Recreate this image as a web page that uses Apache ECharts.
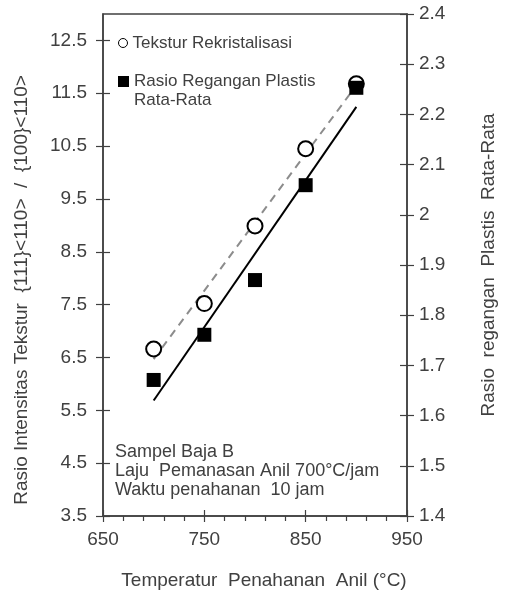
<!DOCTYPE html>
<html>
<head>
<meta charset="utf-8">
<script src="https://cdn.jsdelivr.net/npm/echarts@6/dist/echarts.min.js"></script>
<style>
html,body{margin:0;padding:0;background:#fff;}
#chart{width:506px;height:596px;}
</style>
</head>
<body>
<div id="chart"></div>
<script>
// ---- data ----
const temperatures = [700, 750, 800, 850, 900];
const teksturRekristalisasi = [6.66, 7.52, 8.99, 10.45, 11.68];
const rasioRegangan = [1.671, 1.761, 1.870, 2.059, 2.253];
const trendX = [700, 900];
const trendTekstur = [6.47, 11.65];
const trendRasio = [1.63, 2.215];
const leftTicks = [3.5, 4.5, 5.5, 6.5, 7.5, 8.5, 9.5, 10.5, 11.5, 12.5];
const rightTicks = [1.4, 1.5, 1.6, 1.7, 1.8, 1.9, 2.0, 2.1, 2.2, 2.3, 2.4];
const xTicks = [650, 750, 850, 950];
const seriesNames = ['Tekstur Rekristalisasi', 'Rasio Regangan Plastis\nRata-Rata'];
const annotationLines = ['Sampel Baja B', 'Laju  Pemanasan Anil 700\u00B0C/jam', 'Waktu penahanan  10 jam'];
const xTitle = 'Temperatur  Penahanan  Anil (\u00B0C)';
const yLeftTitle = 'Rasio Intensitas Tekstur  {111}<110>  /  {100}<110>';
const yRightTitle = 'Rasio  regangan  Plastis  Rata-Rata';

const FONT = '"Liberation Sans", Arial, sans-serif';
const TXT = '#404040';
const AX = '#404040';

const chart = echarts.init(document.getElementById('chart'), null, {renderer: 'canvas'});

const pair = (xs, ys) => xs.map((x, i) => [x, ys[i]]);

const baseY = {
  type: 'value',
  axisLine: {show: true, lineStyle: {color: AX, width: 1.5}},
  splitLine: {show: false},
  axisTick: {show: true, length: 7, lineStyle: {color: AX, width: 1.2}},
};

const option = {
  animation: false,
  backgroundColor: '#fff',
  grid: {left: 103, right: 97, top: 14, bottom: 80, show: true, borderColor: AX, borderWidth: 1.5, backgroundColor: 'transparent'},
  xAxis: [
    {
      type: 'value', min: 650, max: 950, interval: 100, position: 'bottom',
      axisLine: {show: true, lineStyle: {color: AX, width: 1.5}},
      axisTick: {show: true, length: 6, lineStyle: {color: AX, width: 1.2}, customValues: xTicks},
      minorTick: {show: true, splitNumber: 5, length: 5, lineStyle: {color: AX, width: 1.2}},
      splitLine: {show: false}, minorSplitLine: {show: false},
      axisLabel: {fontFamily: FONT, fontSize: 19, color: TXT, margin: 14, customValues: xTicks},
      name: xTitle, nameLocation: 'middle', nameGap: 55,
      nameTextStyle: {fontFamily: FONT, fontSize: 19, color: TXT, padding: [0, 0, 0, 18]}
    },
    {
      type: 'value', min: 650, max: 950, interval: 100, position: 'bottom',
      axisLine: {show: false},
      axisTick: {show: true, inside: true, length: 6, lineStyle: {color: AX, width: 1.2}, customValues: xTicks},
      axisLabel: {show: false}, splitLine: {show: false}
    }
  ],
  yAxis: [
    Object.assign({}, baseY, {
      min: 3.5, max: 13, interval: 1, position: 'left',
      axisTick: Object.assign({}, baseY.axisTick, {customValues: leftTicks}),
      axisLabel: {fontFamily: FONT, fontSize: 19, color: TXT, margin: 16, customValues: leftTicks, formatter: v => v.toFixed(1)},
      name: yLeftTitle, nameLocation: 'middle', nameGap: 72, nameRotate: 90,
      nameTextStyle: {fontFamily: FONT, fontSize: 19, color: TXT, padding: [0, 50, 0, 0]}
    }),
    Object.assign({}, baseY, {
      min: 3.5, max: 13, interval: 1, position: 'left',
      axisLine: {show: false},
      axisTick: Object.assign({}, baseY.axisTick, {inside: true, customValues: leftTicks}),
      axisLabel: {show: false}
    }),
    Object.assign({}, baseY, {
      min: 1.4, max: 2.4, interval: 0.1, position: 'right',
      axisTick: Object.assign({}, baseY.axisTick, {customValues: rightTicks}),
      axisLabel: {fontFamily: FONT, fontSize: 19, color: TXT, margin: 12, customValues: rightTicks, formatter: v => String(Math.round(v * 10) / 10)},
      name: yRightTitle, nameLocation: 'middle', nameGap: 72, nameRotate: 90,
      nameTextStyle: {fontFamily: FONT, fontSize: 19, color: TXT}
    }),
    Object.assign({}, baseY, {
      min: 1.4, max: 2.4, interval: 0.1, position: 'right',
      axisLine: {show: false},
      axisTick: Object.assign({}, baseY.axisTick, {inside: true, customValues: rightTicks}),
      axisLabel: {show: false}
    })
  ],
  legend: [
    {
      orient: 'vertical', left: 118, top: 33, padding: 0,
      itemWidth: 9, itemHeight: 9,
      textStyle: {fontFamily: FONT, fontSize: 17, color: TXT, lineHeight: 20},
      data: [{name: seriesNames[0], icon: 'circle', itemStyle: {color: '#fff', borderColor: '#000', borderWidth: 1, opacity: 1}}]
    },
    {
      orient: 'vertical', left: 118, top: 53, padding: 0,
      itemWidth: 11, itemHeight: 11,
      formatter: name => '\n' + name,
      textStyle: {fontFamily: FONT, fontSize: 17, color: TXT, lineHeight: 19},
      data: [{name: seriesNames[1], icon: 'rect', itemStyle: {color: '#000', opacity: 1}}]
    }
  ],
  graphic: [
    {
      type: 'text', left: 115, top: 443, z: 10,
      style: {text: annotationLines.join('\n'), font: '18px ' + FONT, lineHeight: 19, fill: TXT}
    }
  ],
  series: [
    {
      name: 'trendTekstur', type: 'line', xAxisIndex: 0, yAxisIndex: 0,
      data: pair(trendX, trendTekstur), symbol: 'none', z: 2,
      lineStyle: {color: '#8c8c8c', width: 2, type: [8, 6]}
    },
    {
      name: 'trendRasio', type: 'line', xAxisIndex: 0, yAxisIndex: 2,
      data: pair(trendX, trendRasio), symbol: 'none', z: 2,
      lineStyle: {color: '#000', width: 2, type: 'solid'}
    },
    {
      name: seriesNames[0], type: 'scatter', xAxisIndex: 0, yAxisIndex: 0,
      data: pair(temperatures, teksturRekristalisasi), symbol: 'circle', symbolSize: 15, z: 3,
      itemStyle: {color: '#fff', borderColor: '#000', borderWidth: 2, opacity: 1}
    },
    {
      name: seriesNames[1], type: 'scatter', xAxisIndex: 0, yAxisIndex: 2,
      data: pair(temperatures, rasioRegangan), symbol: 'rect', symbolSize: 14, z: 4,
      itemStyle: {color: '#000', opacity: 1}
    }
  ]
};
chart.setOption(option);
</script>
</body>
</html>
